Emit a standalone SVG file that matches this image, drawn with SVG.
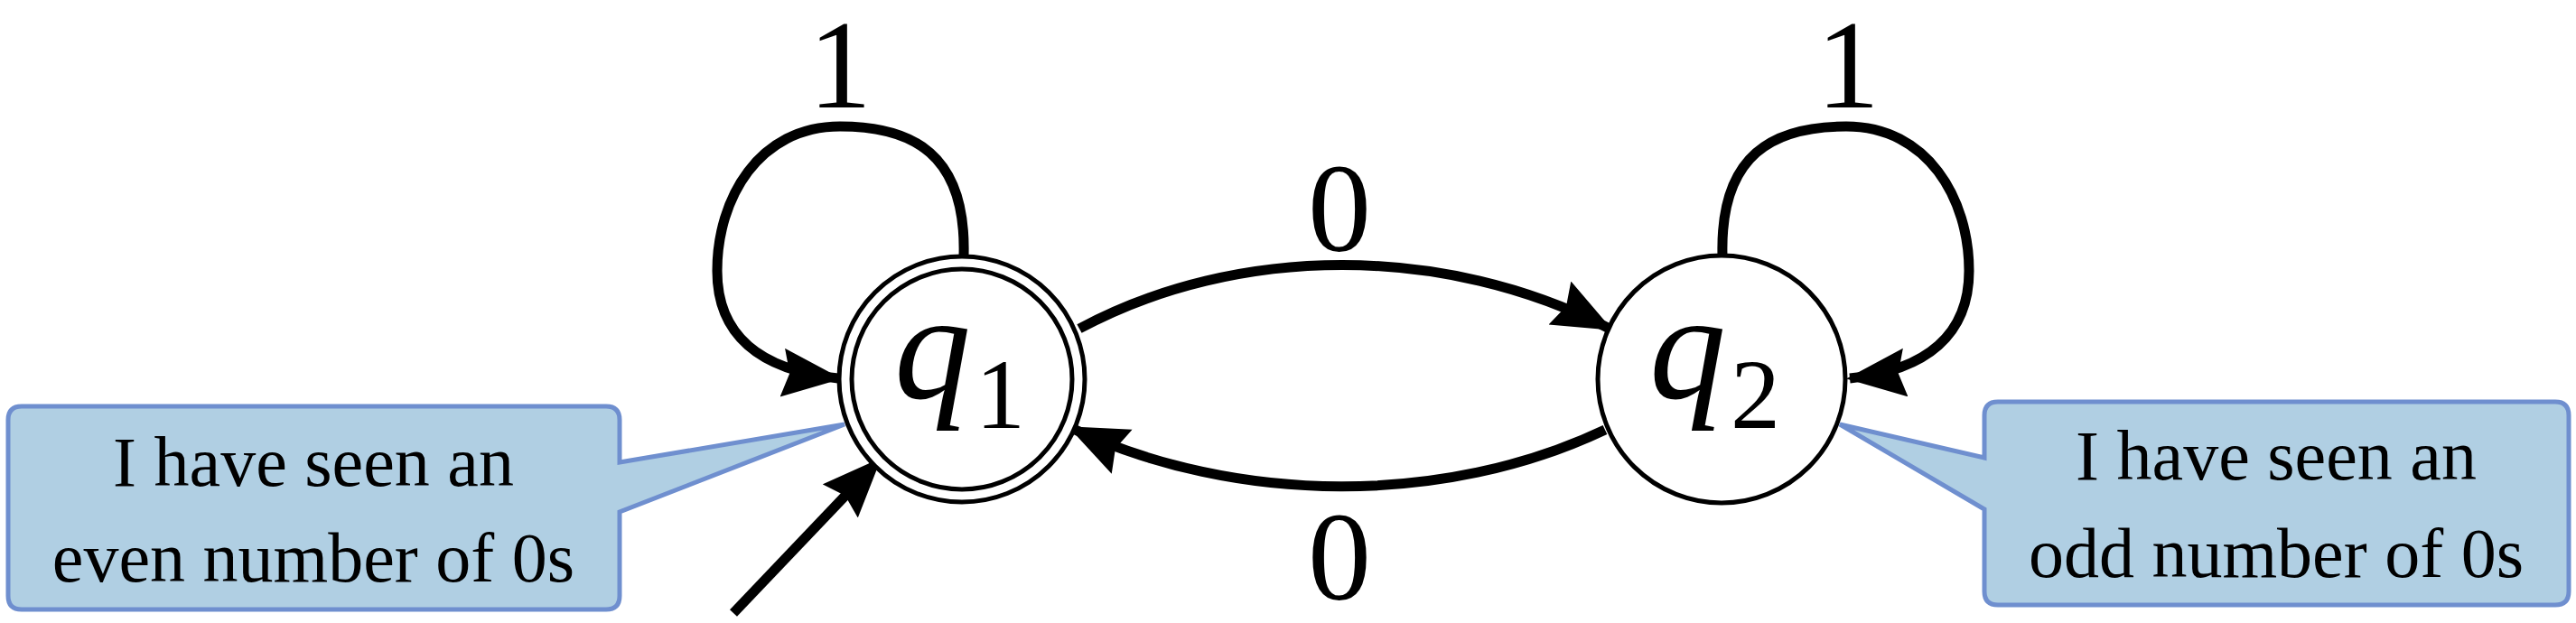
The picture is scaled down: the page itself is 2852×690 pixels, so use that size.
<svg xmlns="http://www.w3.org/2000/svg" width="2852" height="690" viewBox="0 0 2852 690">
<defs>
<style>
.st{fill:#fff;stroke:#000;stroke-width:5}
.ed{fill:none;stroke:#000;stroke-width:11;marker-end:url(#ah)}
.lb{font-family:"Liberation Serif",serif;font-size:140px;text-anchor:middle}
.q{font-family:"Liberation Serif",serif;font-style:italic;font-size:170px}
.sub{font-family:"Liberation Serif",serif;font-size:110px}
.co{fill:#b0cfe3;stroke:#6f8fcf;stroke-width:5}
.ct{font-family:"Liberation Serif",serif;font-size:78px;text-anchor:middle}
</style>
<marker id="ah" markerUnits="userSpaceOnUse" markerWidth="80" markerHeight="60" refX="62" refY="27" orient="auto">
<path d="M0,0 L66,27 L0,54 L8,27 Z" fill="#000"/>
</marker>
</defs>
<g id="connectors">
<path class="ed" d="M1067,283 C1070,170 1010,140 930,140 C840,140 794,220 794,300 C794,370 840,410 928,419"/>
<path class="ed" d="M1907,283 C1904,170 1964,140 2044,140 C2134,140 2180,220 2180,300 C2180,370 2134,410 2048,419"/>
<path class="ed" d="M1195,364 C1370,270 1600,270 1782,364"/>
<path class="ed" d="M1777,476 C1600,560 1370,560 1186,474"/>
<path class="ed" d="M812,679 L973,510"/>
</g>
<g id="labels">
<text class="lb" x="930" y="119">1</text>
<text class="lb" x="2046" y="119">1</text>
<text class="lb" x="1483" y="278">0</text>
<text class="lb" x="1483" y="664">0</text>
</g>
<g id="q1">
<circle class="st" cx="1065" cy="420" r="136"/>
<circle class="st" cx="1065" cy="420" r="122"/>
<text class="q" x="990" y="441">q</text><text class="sub" x="1080" y="474">1</text>
</g>
<g id="q2">
<circle class="st" cx="1906" cy="420" r="137"/>
<text class="q" x="1826" y="441">q</text><text class="sub" x="1916" y="474">2</text>
</g>
<g id="note1">
<path class="co" d="M24,450 H671 Q686,450 686,465 V512 L935,470 L686,567 V660 Q686,675 671,675 H24 Q9,675 9,660 V465 Q9,450 24,450 Z"/>
<text class="ct" x="347" y="538">I have seen an</text>
<text class="ct" x="347" y="644">even number of 0s</text>
</g>
<g id="note2">
<path class="co" d="M2212,445 H2829 Q2844,445 2844,460 V655 Q2844,670 2829,670 H2212 Q2197,670 2197,655 V564 L2037,470 L2197,507 V460 Q2197,445 2212,445 Z"/>
<text class="ct" x="2520" y="531">I have seen an</text>
<text class="ct" x="2520" y="639">odd number of 0s</text>
</g>
</svg>
